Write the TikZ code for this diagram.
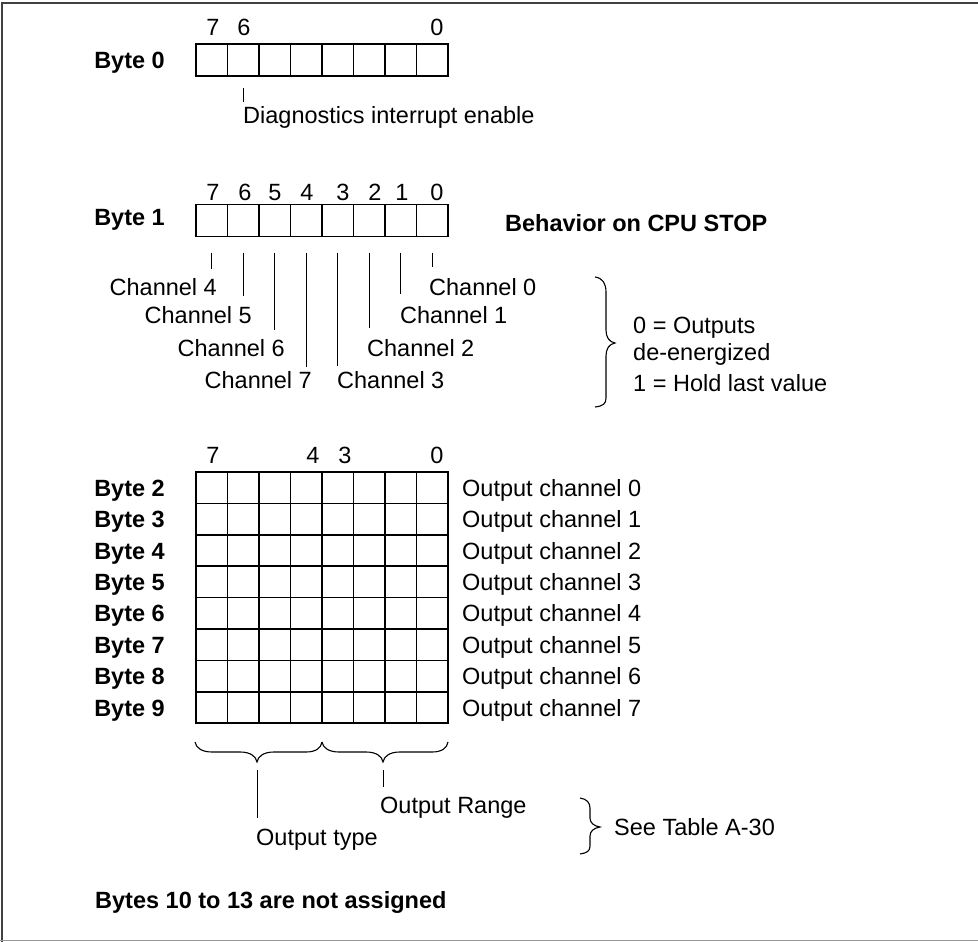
\documentclass[tikz,border=0pt]{standalone}
\usepackage{fontspec}
\setmainfont{Liberation Sans}
\begin{document}
\begin{tikzpicture}[x=1pt,y=-1pt,
  lbl/.style={inner sep=0pt,font=\fontsize{23.5}{28}\selectfont},
  blbl/.style={inner sep=0pt,font=\fontsize{23.5}{28}\selectfont\bfseries},
  cellA/.style={draw,line width=1.6pt,minimum width=31.5pt,minimum height=32pt,inner sep=0pt,outer sep=0pt},
  cellB/.style={draw,line width=1.6pt,minimum width=31.5pt,minimum height=31.4pt,inner sep=0pt,outer sep=0pt},
  tick/.style={line width=1pt},
  brc/.style={line width=1.1pt}]
\useasboundingbox (0,0) rectangle (978,942);
% frame
\draw[line width=1.5pt,black!75] (2,942) -- (2,3) -- (978,3);
\draw[line width=1.5pt,black!40] (0,940.5) -- (978,940.5);

% ---------- Byte 0 ----------
\node[blbl,anchor=base east] (byte0) at (165,68.5) {Byte 0};
\foreach \i in {0,...,7}{
  \node[cellA] (a\i) at ({196+31.5*(\i+0.5)},60) {};
}
\node[lbl,anchor=base] (a7n) at (213,35.5) {7};
\node[lbl,anchor=base] (a6n) at (244,35.5) {6};
\node[lbl,anchor=base] (a0n) at (437,35.5) {0};
\node[lbl,anchor=base west] (diag) at (243,123) {Diagnostics interrupt enable};
\coordinate (d1) at (243,88);
\coordinate (d2) at (243,102);
\draw[tick] (d1) -- (d2);

% ---------- Byte 1 ----------
\node[blbl,anchor=base east] (byte1) at (165,225) {Byte 1};
\foreach \i in {0,...,7}{
  \node[cellA] (b\i) at ({196+31.5*(\i+0.5)},220.5) {};
}
\foreach \x/\d in {213/7,245/6,275/5,307/4,343/3,375/2,402/1,437/0}{
  \node[lbl,anchor=base] (bn\d) at (\x,200.5) {\d};
}
\node[blbl,anchor=base west] (stop) at (505,231.5) {Behavior on CPU STOP};

\node[lbl,anchor=base east] (ch4) at (217,295.5) {Channel 4};
\node[lbl,anchor=base east] (ch5) at (252,323.5) {Channel 5};
\node[lbl,anchor=base east] (ch6) at (285,356.5) {Channel 6};
\node[lbl,anchor=base east] (ch7) at (312,388.5) {Channel 7};
\node[lbl,anchor=base west] (ch3) at (337,388.5) {Channel 3};
\node[lbl,anchor=base west] (ch2) at (367,356.5) {Channel 2};
\node[lbl,anchor=base west] (ch1) at (400,323.5) {Channel 1};
\node[lbl,anchor=base west] (ch0) at (429,295.5) {Channel 0};

\draw[tick] (b0.south) ++(0,16) -- ++(0,16);
\draw[tick] (b1.south) ++(0,16) -- ++(0,43);
\draw[tick] (b2.south) ++(0,16) -- ++(0,77);
\draw[tick] (b3.south) ++(0,16) -- ++(0,114);
\draw[tick] (b4.south) ++(0,16) -- ++(0,113);
\draw[tick] (b5.south) ++(0,16) -- ++(0,75);
\draw[tick] (b6.south) ++(0,16) -- ++(0,41);
\draw[tick] (b7.south) ++(0,16) -- ++(0,14);

% brace behaviour
\draw[brc] (595,277) .. controls (603,278) and (606,284) .. (606,292) -- (606,330)
  .. controls (606,337) and (609,342) .. (615,343)
  .. controls (609,344) and (606,349) .. (606,356) -- (606,398)
  .. controls (606,404) and (603,406) .. (595,407);
\node[lbl,anchor=base west] (o0) at (633,333.5) {0 = Outputs};
\node[lbl,anchor=base west] (o1) at (633,360) {de-energized};
\node[lbl,anchor=base west] (o2) at (633,391.5) {1 = Hold last value};

% ---------- Bytes 2..9 ----------
\foreach \x/\d in {213/7,313/4,345/3,437/0}{
  \node[lbl,anchor=base] (gn\d) at (\x,463.5) {\d};
}
\foreach \r in {0,...,7}{
  \pgfmathtruncatemacro{\bn}{\r+2}
  \node[blbl,anchor=base east] (byte\bn) at (165,{472+31.4*(\r+0.5)+8.5}) {Byte \bn};
  \node[lbl,anchor=base west] (out\r) at (462,{472+31.4*(\r+0.5)+8.5}) {Output channel \r};
  \foreach \i in {0,...,7}{
    \node[cellB] (g\r\i) at ({196+31.5*(\i+0.5)},{472+31.4*(\r+0.5)}) {};
  }
}

% bottom braces
\draw[brc] (195,742) .. controls (196,748) and (202,752) .. (212,752) -- (240,752)
  .. controls (250,752) and (256,756) .. (257,762)
  .. controls (258,756) and (264,752) .. (274,752) -- (306,752)
  .. controls (316,752) and (321,748) .. (322,742);
\draw[brc] (322,742) .. controls (323,748) and (329,752) .. (339,752) -- (366,752)
  .. controls (376,752) and (382,756) .. (383,762)
  .. controls (384,756) and (390,752) .. (400,752) -- (432,752)
  .. controls (442,752) and (447,748) .. (448,742);
\coordinate (t1a) at (257,770);
\coordinate (t1b) at (257,818);
\coordinate (t2a) at (383,770);
\coordinate (t2b) at (383,787);
\draw[tick] (t1a) -- (t1b);
\draw[tick] (t2a) -- (t2b);
\node[lbl,anchor=base west] (otype) at (256,845) {Output type};
\node[lbl,anchor=base west] (orange) at (380,813) {Output Range};

\draw[brc] (580,798) .. controls (587,799) and (590,803) .. (590,808) -- (590,818)
  .. controls (590,823) and (594,826) .. (600,827)
  .. controls (594,828) and (590,831) .. (590,836) -- (590,846)
  .. controls (590,851) and (587,853) .. (580,854);
\node[lbl,anchor=base west] (see) at (614,835) {See Table A-30};

\node[blbl,anchor=base west] (na) at (95,908.5) {Bytes 10 to 13 are not assigned};
\end{tikzpicture}
\end{document}
